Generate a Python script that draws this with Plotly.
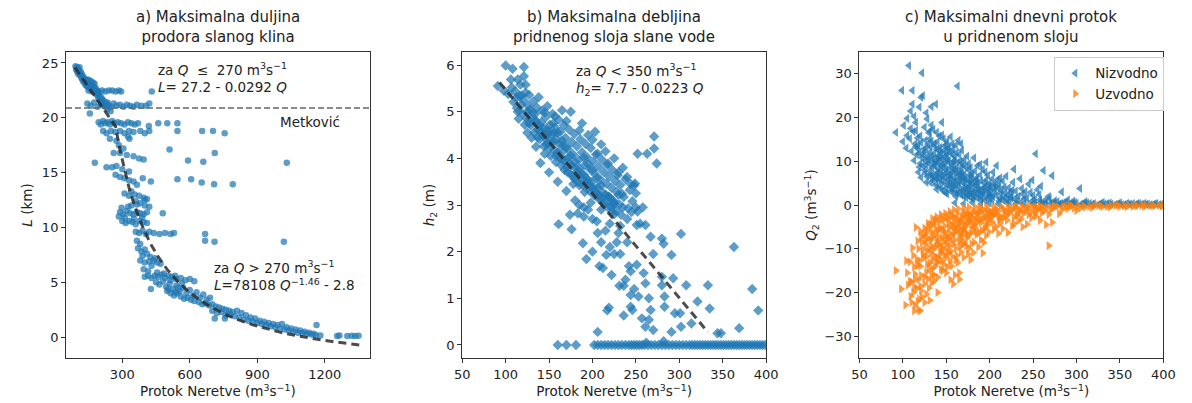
import plotly.graph_objects as go

# ---------------- data ----------------
# panel a: (Q [m3/s], L [km])
a_points = [
    (92,24.7),(95,24.4),(98,24.6),(100,24.2),(103,24.5),(105,24.0),(108,24.3),(110,24.6),(112,23.9),(115,24.2),
    (117,23.7),(120,24.0),(122,23.5),(125,23.8),(127,23.3),(130,23.6),(132,23.2),(135,23.5),(137,23.0),(140,23.4),
    (142,22.9),(145,23.2),(147,23.5),(150,22.8),(152,23.1),(155,23.4),(157,22.7),(160,23.0),(162,23.3),(165,22.6),
    (167,22.9),(170,23.2),(172,22.5),(175,22.8),(177,23.1),(180,22.4),(182,22.7),(185,22.2),(188,22.5),(190,22.0),
    (193,22.3),(195,21.8),(198,22.1),(200,21.6),(205,21.9),(208,21.4),(212,21.7),(215,21.2),(220,21.5),(225,21.0),
    (230,21.3),(235,20.8),(240,21.1),(248,20.6),
    (150,22.5),(165,22.4),(180,22.5),(195,22.4),(210,22.5),(225,22.4),(240,22.5),(255,22.5),(270,22.4),(285,22.5),
    (295,22.4),(431,22.4),
    (145,21.3),(160,21.1),(175,21.4),(190,21.0),(205,21.2),(220,21.1),(235,21.4),(250,21.0),(262,21.3),(275,21.1),
    (290,21.2),(305,21.0),(320,21.2),(335,21.1),(350,21.0),(365,21.2),(385,21.1),(405,21.1),(420,21.3),(156,20.4),
    (195,19.6),(205,19.4),(215,19.7),(225,19.5),(235,19.6),(245,19.4),(255,19.7),(265,19.5),(280,19.6),(295,19.5),
    (310,19.4),(325,19.6),(340,19.5),(355,19.4),(370,19.5),(418,19.25),(460,19.5),(500,19.5),(545,19.5),
    (215,18.8),(230,18.6),(250,18.8),(270,18.7),(290,18.8),(310,18.6),(330,18.8),(350,18.7),(380,18.8),(400,18.6),
    (420,18.8),(545,18.8),(655,18.8),(703,18.8),(755,18.6),
    (245,18.1),(274,17.9),(332,18.1),(326,18.3),(285,17.5),(305,17.2),(262,16.8),(290,16.8),(320,16.6),(350,16.5),
    (375,16.3),(395,16.2),(510,17.1),(711,16.8),(592,16.1),(660,16.0),(1031,15.9),(178,15.9),
    (230,15.5),(255,15.5),(274,15.6),(300,15.3),(330,15.1),(270,14.8),(290,14.6),(310,14.5),(330,14.3),(350,14.2),
    (391,14.5),(427,14.2),(365,13.9),(545,14.4),(606,14.4),(653,14.1),(708,13.95),(791,13.95),
    (340,13.3),(310,13.1),(330,12.9),(355,13.0),(375,12.9),(395,12.7),(410,12.6),(360,12.4),(380,12.2),(400,12.5),
    (290,11.4),(305,11.2),(320,11.5),(335,11.3),(350,11.2),(365,11.4),(380,11.3),(395,11.2),(410,11.4),(480,11.3),
    (300,10.6),(315,10.4),(330,10.6),(345,10.5),(360,10.3),(378,10.6),(395,10.5),(410,10.4),(340,12.0),(365,12.1),
    (400,12.0),(420,11.9),(285,11.0),(297,11.8),(312,10.9),(326,11.9),(352,10.8),(388,10.9),
    (360,9.6),(375,9.5),(390,9.7),(405,9.4),(420,9.6),(440,9.5),(465,9.4),(490,9.5),(515,9.4),(530,9.5),
    (668,9.4),(668,8.8),(710,8.7),(1018,8.7),(365,8.8),(380,8.5),
    (370,8.1),(385,7.8),(400,8.0),(390,7.4),(410,7.6),(425,7.3),(380,7.0),(400,6.8),(420,6.9),(440,7.0),
    (455,6.8),(470,6.7),(445,7.2),(430,6.5),(395,6.2),(415,6.0),
    (400,5.5),(415,5.6),(430,5.4),(445,5.6),(460,5.5),(475,5.7),(490,5.4),(505,5.6),(520,5.5),(540,5.3),
    (560,5.4),(580,5.2),(600,5.3),(620,5.1),(427,4.4),(455,5.9),(485,5.8),(515,5.2),(535,5.6),(565,4.9),
    (450,5.0),(465,4.8),(480,5.1),(495,4.6),(510,4.9),(525,4.4),(540,4.7),(555,4.2),(570,4.5),(585,4.0),
    (600,4.3),(615,3.8),(630,4.1),(645,3.6),(660,3.9),(675,3.4),(690,3.6),(505,4.4),(535,4.1),(548,4.5),
    (500,4.2),(515,4.0),(530,3.8),(545,4.0),(560,3.7),(575,3.5),(590,3.6),(605,3.4),(620,3.3),(640,3.2),
    (655,3.0),(670,3.1),(685,2.9),(700,3.0),(715,2.8),(730,2.7),(745,2.6),(760,2.5),(775,2.4),(790,2.3),
    (711,1.7),(756,1.7),(700,2.4),(720,2.2),(740,2.3),(760,2.0),(780,2.1),(800,1.9),(820,1.8),(840,1.6),
    (860,1.5),(880,1.4),(900,1.3),(920,1.2),(940,1.1),(960,1.0),(980,0.9),(1000,0.8),(1020,0.7),(1040,0.6),
    (1060,0.5),(1080,0.4),(1100,0.35),(1120,0.3),(1140,0.25),(1163,1.1),(1160,0.2),(1180,0.15),
    (810,2.4),(830,2.2),(850,2.0),(870,1.8),(890,1.7),(910,1.5),(930,1.4),(950,1.3),(970,1.2),(990,1.1),
    (1010,1.2),(1030,0.9),(1050,0.8),(1070,0.7),(1090,0.6),(1110,0.5),(1130,0.4),(1150,0.3),
    (1255,0.1),(1265,0.15),(1300,0.1),(1320,0.12),(1335,0.1),(1350,0.12),
]

# panel b: (Q, h2 [m])
b_points = [
    (100,5.99),(108,5.92),(121,5.96),(121,5.76),(91,5.55),(106,5.69),(114,5.69),(123,5.58),(98,5.45),
    (103,5.38),(107,5.52),(109,5.21),(111,5.44),(113,5.08),(116,5.33),(117,5.58),(119,4.97),(121,5.24),(123,5.41),
    (124,4.86),(126,5.12),(127,5.36),(129,4.71),(131,4.98),(132,5.22),(133,4.55),(134,4.83),(136,5.09),(137,4.62),
    (138,5.31),(139,4.41),(141,4.77),(142,5.02),(143,4.49),(144,4.26),(146,4.88),(147,4.61),(148,5.12),(149,4.33),
    (151,4.72),(152,4.05),(153,4.51),(154,4.95),(156,4.18),(157,4.66),(158,3.92),(159,4.41),(161,4.83),(162,4.02),
    (163,4.57),(164,3.85),(166,4.28),(167,4.71),(168,3.96),(169,4.44),(171,3.71),(172,4.19),(173,4.62),(174,3.88),
    (176,4.35),(177,3.62),(178,4.08),(179,4.52),(181,3.79),(182,4.26),(183,3.51),(184,3.97),(186,4.41),(187,3.68),
    (188,4.13),(189,3.42),(191,3.86),(192,4.31),(193,3.58),(194,4.02),(196,3.31),(197,3.77),(198,4.22),(199,3.49),
    (201,3.93),(202,3.21),(203,3.66),(204,4.08),(206,3.38),(207,3.82),(208,3.12),(209,3.55),(211,3.97),(212,3.27),
    (213,3.71),(214,3.03),(216,3.46),(217,3.86),(218,3.18),(219,3.61),(221,2.96),(222,3.37),(223,3.75),(224,3.09),
    (226,3.52),(227,2.88),(228,3.28),(229,3.64),(231,3.01),(232,3.43),(233,2.79),(236,3.17),(238,3.55),(241,2.93),
    (243,3.32),(246,3.08),(249,3.46),(252,2.86),
    (118,5.15),(122,4.72),(128,5.05),(130,4.44),(135,4.78),(140,4.58),(145,4.45),(145,4.99),(150,4.21),(150,4.58),
    (155,4.36),(155,4.75),(160,4.12),(160,4.55),(165,3.98),(165,4.38),(170,3.82),(170,4.25),(175,4.05),(175,3.66),
    (180,3.92),(180,3.55),(185,3.78),(185,3.42),(190,3.65),(190,4.02),(195,3.52),(195,3.88),(200,3.38),(200,3.75),
    (205,3.25),(205,3.58),(210,3.12),(210,3.42),(215,3.22),(220,3.15),(225,3.02),(230,3.22),
    (112,5.3),(118,5.35),(125,5.0),(128,4.85),(134,4.95),(139,4.7),(143,4.65),(148,4.5),(152,4.35),(156,4.55),
    (162,4.3),(166,4.15),(171,4.0),(176,3.85),(182,3.7),(186,3.6),(192,3.5),(197,3.4),(203,3.3),(208,3.2),
    (213,3.05),(218,2.95),(223,2.85),(114,5.0),(127,4.75),(137,4.45),(147,4.3),(158,4.05),(168,3.75),(178,3.45),
    (165,5.03),(175,5.0),(203,4.57),(206,4.1),(218,3.89),(185,4.6),(195,4.5),(210,4.3),(225,4.0),(235,3.8),
    (240,3.6),(230,3.7),(157,4.9),(170,4.8),(188,4.75),(200,4.4),(215,4.15),(244,3.45),(250,3.25),
    (140,3.9),(150,3.7),(160,3.5),(170,3.3),(180,3.1),(190,2.95),(145,4.1),(135,4.25),(125,4.55),(115,4.85),
    (252,4.1),(263,4.1),(271,4.21),(274,3.89),(271,4.47),(191,3.28),(219,3.18),(234,3.24),(248,3.42),
    (161,2.59),(176,2.48),(174,2.79),(183,2.82),(189,2.18),(193,1.84),(200,2.0),(206,2.4),(208,1.69),(212,1.65),
    (216,1.93),(219,0.8),(217,0.74),(206,0.28),(225,1.95),(232,1.95),(231,1.27),(236,1.27),(236,0.63),(242,1.69),
    (244,1.58),(244,1.07),(244,0.82),(246,0.75),(251,1.72),(251,2.57),(253,1.04),(257,0.57),(259,1.54),(261,1.32),
    (261,0.39),(265,0.54),(265,1.0),(267,0.75),(270,0.32),(270,1.95),(261,2.57),(267,2.32),(280,1.46),(280,1.28),
    (283,1.04),(283,0.82),(291,1.93),(291,0.28),(293,1.43),(295,0.68),(301,0.68),(302,2.38),(302,0.39),(308,1.28),
    (314,0.46),(321,0.93),(333,1.28),(335,0.78),(344,0.25),(348,0.25),(363,2.1),(369,0.36),(384,1.2),(391,0.74),
    (280,2.28),(282,2.17),
    (190,2.75),(195,2.9),(200,2.7),(205,2.65),(210,2.9),(215,2.45),(220,2.6),(225,2.8),(230,2.4),(235,2.95),
    (240,2.7),(245,2.85),(250,2.95),(255,2.6),(258,2.95),(185,3.0),(198,3.05),(225,3.05),(232,2.55),(240,2.2),
    (238,1.4),(248,1.2),(228,2.2),(222,1.5),(220,2.1),(210,2.2),
    (160,0),(170,0),(181,0),(202,0),(206,0),(210,0),(214,0),(218,0),(222,0),(226,0),(230,0),(234,0),(238,0),
    (242,0),(245,0),(248,0),(251,0),(254,0),(257,0),(260,0),(264,0),(268,0),(272,0),(276,0),(280,0),(284,0),
    (288,0),(292,0),(296,0),(300,0),(304,0),(308,0),(312,0),(315,0),(318,0),(321,0),(324,0),(327,0),(330,0),
    (333,0),(336,0),(339,0),(342,0),(345,0),(348,0),(351,0),(354,0),(357,0),(360,0),(363,0),(366,0),(369,0),
    (372,0),(375,0),(378,0),(381,0),(384,0),(387,0),(390,0),(393,0),(396,0),(399,0),(282,0.08),(262,0.05),
]

# panel c: (Q, Q2) downstream (Nizvodno) and upstream (Uzvodno)
c_down = [
    (107,31.9),(122,30.2),(99,26.2),(111,26.2),(163,27.2),(123,25.0),(121,24.6),(111,23.1),(119,22.4),(138,23.1),
    (105,19.8),(115,18.9),(128,19.7),(92,16.6),(105,15.9),
    (100,14.5),(104,13.0),(108,15.2),(110,12.3),(112,16.8),(114,14.0),(116,11.5),(118,13.5),(120,15.8),(122,10.8),
    (124,12.8),(126,14.8),(128,11.0),(130,16.5),(130,9.5),(132,13.2),(134,8.5),(135,17.3),(136,11.8),(138,10.0),
    (140,14.5),(140,7.5),(142,12.5),(144,9.0),(145,16.0),(146,6.8),(148,11.0),(150,13.8),(150,8.0),(152,5.8),
    (153,10.2),(155,12.0),(155,7.0),(157,9.2),(158,4.8),(160,11.0),(160,6.2),(162,8.5),(164,14.8),(165,5.0),
    (166,10.0),(168,7.3),(170,4.0),(170,9.0),(172,6.0),(174,11.2),(175,3.5),(176,8.0),(178,5.2),(180,7.0),
    (180,2.8),(182,10.8),(184,4.5),(185,6.2),(188,3.2),(190,5.5),(192,8.2),(193,2.5),(195,4.2),(198,6.8),
    (200,3.0),(200,1.8),(204,7.5),(205,4.8),(208,2.2),(210,3.8),(212,1.5),(215,5.5),(218,2.8),(220,1.2),
    (222,4.0),(225,2.0),(228,8.2),(230,3.2),(232,1.0),(235,6.0),(238,2.5),(240,1.5),(245,4.8),(248,0.8),
    (250,2.2),(253,11.7),(255,3.5),(258,1.2),(262,7.9),(265,0.6),(268,2.0),(272,6.7),(275,1.0),(283,3.0),
    (285,0.5),(290,1.2),(304,3.8),(300,0.4),(310,0.8),(320,0.3),(330,0.6),(340,0.2),(350,0.5),(360,0.2),
    (370,0.4),(380,0.15),(390,0.3),(400,0.2),
    (125,8.0),(128,6.5),(132,7.0),(135,5.5),(138,6.0),(142,4.5),(145,10.5),(148,5.0),(150,3.8),(154,4.2),
    (156,3.0),(160,3.5),(162,2.5),(166,3.0),(170,2.0),(174,2.4),(178,1.8),(182,2.0),(186,1.5),(190,1.2),
    (195,1.0),(140,9.8),(134,10.5),(144,7.8),(156,6.5),(162,12.0),(168,12.5),(176,9.5),(186,9.0),(196,9.8),
    (208,9.0),(150,12.2),(120,9.5),(118,7.5),(126,10.2),(136,14.0),(142,15.8),(148,13.5),(158,12.8),(166,6.8),
    (172,4.8),(185,5.8),(200,5.0),(212,6.2),
    (113,10.2),(117,12.9),(119,8.7),(121,14.3),(123,11.6),(127,9.1),(129,13.9),(131,7.8),(133,11.1),(135,9.7),
    (137,6.4),(139,12.7),(141,8.3),(143,10.9),(145,5.6),(147,9.5),(149,7.2),(151,11.4),(152,9.9),(154,6.1),
    (156,8.7),(157,11.6),(159,5.4),(161,7.7),(163,9.8),(164,4.3),(166,6.0),(167,8.4),(169,5.2),(171,7.1),
    (173,3.6),(175,5.9),(177,4.6),(179,6.6),(181,3.9),(183,5.4),(187,4.2),(189,6.9),(191,3.4),(194,5.1),
    (197,2.9),(199,4.4),(202,2.4),(206,3.3),(209,5.8),(213,2.6),(217,4.1),(221,2.2),(226,3.4),(233,2.0),
    (237,3.8),(243,1.6),(247,2.9),(252,1.3),(257,2.4),(263,1.0),(269,1.5),(278,0.8),(288,0.6),(296,0.9),
    (125,12.1),(131,15.1),(137,13.5),(141,11.2),(147,12.3),(153,13.1),(159,10.1),(165,11.5),(171,10.4),(177,6.9),
    (183,7.8),(189,9.3),(195,7.6),(203,6.0),(211,4.6),(219,6.6),(227,5.2),(241,3.1),(249,5.7),(259,4.3),
    (139,3.6),(143,5.9),(149,2.8),(153,6.9),(157,4.0),(161,2.0),(163,5.7),(169,3.3),(173,1.7),(177,3.0),
    (181,1.3),(185,2.6),(191,1.9),(197,1.5),(203,1.1),(211,0.9),(217,1.7),(223,0.7),(229,1.4),(236,0.6),
    (115,17.0),(117,15.3),(125,17.8),(133,18.3),(139,16.6),(147,15.1),(151,14.6),(157,14.0),(127,21.1),(133,22.5),
    (101,18.2),(109,21.5),(113,20.3),(145,18.9),(131,16.9),(143,13.2),(161,13.7),(155,15.6),(167,14.0),(109,17.5),
    (127,5.2),(133,6.3),(139,7.1),(146,3.3),(152,4.9),(158,7.6),(164,6.9),(170,5.9),(176,4.1),(180,5.1),
    (187,3.3),(193,4.0),(199,2.2),(205,3.9),(215,1.1),(225,1.6),(131,12.0),(137,9.0),(143,6.9),(149,9.0),
    (121,6.3),(123,9.0),(126,7.3),(129,10.4),(132,5.1),(134,6.8),(136,9.1),(138,4.6),(140,6.0),(142,10.0),
    (144,3.9),(146,8.6),(148,6.3),(150,10.6),(151,2.6),(153,8.0),(155,5.0),(157,3.4),(159,8.2),(161,4.6),
    (163,3.0),(165,7.6),(167,2.3),(169,6.6),(171,3.1),(173,8.7),(175,2.2),(177,5.5),(179,2.6),(183,3.2),
    (186,4.9),(188,2.1),(192,3.0),(196,5.7),(198,3.6),(201,4.1),(204,2.0),(207,4.6),(214,3.3),(224,2.9),
    (127,13.0),(133,14.6),(139,10.9),(144,11.9),(152,12.9),(158,9.9),(168,9.6),(178,8.6),(119,11.8),(115,13.4),
    (160,0.5),(170,0.3),(180,0.6),(190,0.2),(200,0.4),(210,0.3),(220,0.5),(230,0.2),(240,0.4),(250,0.3),
    (260,0.2),(270,0.4),(280,0.2),(295,0.3),(305,0.2),(315,0.4),(325,0.1),(335,0.3),(345,0.2),(355,0.1),
    (365,0.3),(375,0.2),(385,0.1),(395,0.1),
    (252,0.4),(258,0.6),(264,0.3),(274,0.5),(282,0.4),(292,0.2),(298,0.6),(308,0.3),(312,0.5),(318,0.2),
    (328,0.4),(332,0.2),(338,0.5),(348,0.3),(352,0.1),(358,0.4),(362,0.2),(368,0.1),(372,0.3),(378,0.4),
    (382,0.2),(388,0.1),(392,0.3),(398,0.2),
]
c_up = [
    (92,-15.0),(98,-19.2),(103,-22.9),(113,-24.2),(120,-24.2),(109,-20.9),(119,-21.5),(127,-20.4),(136,-17.3),
    (160,-16.0),(158,-18.1),(115,-5.1),(268,-9.3),(221,-6.3),(243,-4.4),(272,-4.0),
    (105,-15.5),(108,-13.0),(110,-17.5),(112,-11.5),(114,-15.8),(116,-12.5),(118,-10.0),(120,-14.0),(120,-18.5),
    (122,-8.5),(124,-12.0),(125,-16.5),(126,-6.5),(128,-10.5),(130,-14.5),(130,-5.0),(132,-8.0),(134,-12.5),
    (135,-4.5),(136,-16.0),(138,-9.5),(140,-6.0),(140,-13.0),(142,-3.8),(144,-11.0),(145,-7.5),(146,-15.0),
    (148,-4.8),(150,-9.0),(150,-12.0),(152,-3.2),(154,-6.5),(155,-10.5),(156,-14.0),(158,-5.0),(160,-8.0),
    (160,-2.8),(162,-11.5),(164,-4.2),(165,-6.8),(166,-9.5),(168,-3.0),(170,-5.5),(170,-12.0),(172,-2.2),
    (174,-7.5),(175,-4.0),(176,-10.0),(178,-2.8),(180,-5.8),(180,-1.8),(182,-8.5),(184,-3.5),(185,-2.0),
    (188,-6.2),(190,-1.5),(190,-4.0),(192,-11.0),(194,-2.5),(196,-7.0),(198,-1.2),(200,-3.2),(202,-1.8),
    (205,-5.5),(208,-1.0),(210,-2.5),(212,-4.2),(215,-0.8),(218,-1.8),(220,-3.5),(224,-1.0),(228,-2.8),
    (230,-0.6),(235,-1.5),(238,-5.0),(240,-0.8),(245,-2.2),(250,-0.5),(255,-1.2),(258,-3.5),(262,-0.6),
    (265,-4.5),(270,-1.0),(275,-0.4),(280,-2.0),(285,-0.3),(290,-0.8),(300,-1.3),(302,-0.3),(310,-0.5),
    (320,-0.2),(330,-0.4),(340,-0.2),(350,-0.3),(360,-0.1),(370,-0.2),(380,-0.1),(390,-0.2),(400,-0.1),
    (126,-9.0),(128,-13.5),(132,-11.0),(136,-7.0),(138,-5.5),(142,-9.0),(146,-5.8),(148,-11.5),(152,-7.5),
    (156,-4.5),(158,-9.0),(162,-6.0),(166,-3.5),(168,-7.0),(172,-5.0),(176,-3.0),(178,-6.5),(182,-4.5),
    (186,-2.8),(190,-8.0),(194,-5.5),(198,-3.8),(204,-2.5),(210,-6.5),(216,-3.0),(222,-2.0),(226,-4.8),
    (232,-1.8),(236,-3.2),(242,-1.2),(248,-3.0),(252,-2.0),(256,-0.8),(260,-1.8),(266,-0.5),(272,-0.9),
    (278,-0.3),(288,-0.4),(295,-0.2),(305,-0.6),(315,-0.3),(325,-0.1),(335,-0.3),(345,-0.1),(355,-0.2),
    (365,-0.3),(375,-0.1),(385,-0.2),(395,-0.1),(134,-14.5),(140,-16.5),(144,-14.8),(150,-15.5),(154,-13.0),
    (130,-19.0),(118,-17.0),(112,-20.0),(122,-21.0),(116,-19.0),(108,-17.5),(124,-7.0),(120,-6.0),
    (111,-9.8),(113,-14.1),(117,-8.2),(119,-12.7),(121,-16.1),(123,-10.2),(125,-5.3),(127,-11.8),(129,-7.6),(131,-13.2),
    (133,-6.1),(135,-10.1),(137,-3.8),(139,-11.9),(141,-7.3),(143,-5.1),(145,-9.7),(147,-3.3),(149,-6.9),(151,-10.6),
    (153,-4.1),(155,-8.1),(157,-2.6),(159,-6.2),(161,-9.9),(163,-3.4),(165,-5.2),(167,-7.7),(169,-2.4),(171,-4.4),
    (173,-6.4),(175,-1.9),(177,-3.7),(179,-8.9),(181,-2.9),(183,-5.1),(187,-1.7),(189,-3.3),(191,-5.8),(193,-1.2),
    (195,-2.9),(197,-4.5),(199,-2.1),(201,-1.4),(203,-3.9),(207,-2.0),(209,-1.5),(213,-2.8),(217,-1.3),(219,-2.4),
    (223,-1.5),(227,-0.9),(231,-2.4),(234,-1.1),(239,-2.0),(244,-0.7),(247,-1.6),(253,-1.0),(259,-0.5),(263,-1.4),
    (113,-18.8),(117,-22.0),(121,-19.6),(125,-18.0),(129,-16.9),(133,-17.8),(137,-14.0),(141,-12.1),(145,-12.8),(151,-14.2),
    (157,-11.8),(163,-13.2),(167,-10.8),(173,-9.4),(181,-10.9),(187,-9.6),(193,-8.6),(199,-6.1),(207,-4.9),(215,-5.4),
    (228,-4.2),(233,-3.6),(253,-2.6),(268,-2.2),(283,-1.1),(297,-0.7),(308,-0.2),(318,-0.6),(328,-0.2),(338,-0.5),
    (348,-0.1),(358,-0.4),(368,-0.1),(378,-0.3),(388,-0.1),(398,-0.3),(252,-0.3),(258,-0.2),(274,-0.2),(292,-0.1),
    (104,-12.8),(106,-18.3),(110,-22.3),(114,-23.0),(118,-24.0),(125,-22.3),(131,-21.8),(140,-20.0),(155,-17.1),(165,-15.5),
    (178,-12.5),(165,-17.0),(129,-4.2),(134,-3.1),(139,-2.7),(144,-2.2),(149,-1.9),(154,-1.5),(159,-1.1),(164,-0.9),
    (170,-0.7),(176,-0.5),(183,-0.4),(189,-0.6),(196,-0.3),(205,-0.5),(213,-0.3),(221,-0.4),(229,-0.2),(237,-0.3),
    (245,-0.2),(133,-9.3),(139,-8.1),(147,-8.4),(153,-9.4),(161,-4.8),(167,-5.9),(171,-8.6),(185,-6.8),(143,-10.6),
    (121,-7.1),(123,-11.4),(126,-8.0),(128,-5.9),(130,-10.0),(132,-4.4),(134,-7.3),(136,-11.6),(138,-3.3),(140,-8.8),
    (142,-5.6),(144,-3.0),(146,-10.2),(148,-6.2),(150,-2.8),(151,-7.9),(153,-5.3),(155,-2.3),(157,-7.0),(159,-3.6),
    (161,-5.8),(163,-2.0),(165,-8.4),(167,-4.1),(169,-6.1),(171,-1.8),(173,-3.6),(175,-6.9),(177,-2.1),(179,-4.6),
    (182,-1.5),(184,-6.0),(186,-3.9),(188,-1.3),(192,-3.1),(195,-4.9),(197,-1.9),(200,-2.6),(205,-1.6),(211,-3.4),
    (127,-15.3),(133,-15.9),(139,-13.2),(147,-13.6),(153,-11.0),(161,-12.5),(169,-9.0),(175,-11.2),(117,-13.8),(114,-17.0),
]

# fitted relations (coefficients as printed on the chart)
FIT_A_LIN = (27.2, 0.0292)          # L = 27.2 - 0.0292 Q, Q <= 270
FIT_A_POW = (78108.0, -1.46, 2.8)   # L = 78108 Q^-1.46 - 2.8, Q > 270
FIT_B_LIN = (7.7, 0.0223)           # h2 = 7.7 - 0.0223 Q, Q < 350
fit_a_q_lin = [90, 130, 170, 210, 250, 270]
fit_a_q_pow = [270, 290, 310, 330, 350, 375, 400, 430, 460, 500, 550, 600, 650, 700, 760, 820,
               880, 940, 1000, 1060, 1120, 1180, 1240, 1300, 1360]
fit_b_q = [93, 333]
METKOVIC_L = 20.9

BLUE = "rgba(31,119,180,0.72)"
ORANGE = "rgba(255,127,14,0.78)"
DASH = "rgba(45,45,45,0.85)"
FONT = "DejaVu Sans"
TXT = "#222222"

# ---------------- figure ----------------
fig = go.Figure()

fig.add_trace(go.Scatter(x=[p[0] for p in a_points], y=[p[1] for p in a_points], mode="markers",
                         xaxis="x", yaxis="y", showlegend=False,
                         marker=dict(symbol="circle", size=6.5, color=BLUE, line=dict(width=0))))
fa_y_lin = [FIT_A_LIN[0] - FIT_A_LIN[1] * q for q in fit_a_q_lin]
fa_y_pow = [FIT_A_POW[0] * q ** FIT_A_POW[1] - FIT_A_POW[2] for q in fit_a_q_pow]
fig.add_trace(go.Scatter(x=fit_a_q_lin + fit_a_q_pow, y=fa_y_lin + fa_y_pow, mode="lines",
                         xaxis="x", yaxis="y", showlegend=False,
                         line=dict(color=DASH, width=3, dash="8px,5px")))

fig.add_trace(go.Scatter(x=[p[0] for p in b_points], y=[p[1] for p in b_points], mode="markers",
                         xaxis="x2", yaxis="y2", showlegend=False,
                         marker=dict(symbol="diamond", size=8, color=BLUE, line=dict(width=0))))
fig.add_trace(go.Scatter(x=fit_b_q, y=[FIT_B_LIN[0] - FIT_B_LIN[1] * q for q in fit_b_q], mode="lines",
                         xaxis="x2", yaxis="y2", showlegend=False,
                         line=dict(color=DASH, width=3, dash="8px,5px")))

fig.add_trace(go.Scatter(x=[p[0] for p in c_down], y=[p[1] for p in c_down], mode="markers",
                         xaxis="x3", yaxis="y3", name="Nizvodno",
                         marker=dict(symbol="triangle-left", size=8, color=BLUE, line=dict(width=0))))
fig.add_trace(go.Scatter(x=[p[0] for p in c_up], y=[p[1] for p in c_up], mode="markers",
                         xaxis="x3", yaxis="y3", name="Uzvodno",
                         marker=dict(symbol="triangle-right", size=8, color=ORANGE, line=dict(width=0))))

W, H = 1192, 403
doms = [(59 / W, 368 / W), (462 / W, 771 / W), (866 / W, 1175 / W)]
xtitle = "Protok Neretve (m<sup>3</sup>s<sup>−1</sup>)"

ax_common = dict(showline=True, mirror=True, linecolor="#333333", linewidth=1, ticks="outside",
                 ticklen=4, tickcolor="#333333", showgrid=False, zeroline=False,
                 tickfont=dict(family=FONT, size=13, color=TXT),
                 title_font=dict(family=FONT, size=13.5, color=TXT))

fig.update_layout(
    width=W, height=H, margin=dict(l=0, r=0, t=52, b=45),
    paper_bgcolor="white", plot_bgcolor="white",
    font=dict(family=FONT, size=13, color=TXT),
    xaxis=dict(domain=doms[0], range=[50, 1400], tickvals=[300, 600, 900, 1200],
               title=dict(text=xtitle, standoff=4), anchor="y", **ax_common),
    yaxis=dict(domain=[0, 1], range=[-1.9, 26.0], tickvals=[0, 5, 10, 15, 20, 25],
               title=dict(text="<i>L</i> (km)", standoff=6), anchor="x", **ax_common),
    xaxis2=dict(domain=doms[1], range=[50, 400], tickvals=list(range(50, 401, 50)),
                title=dict(text=xtitle, standoff=4), anchor="y2", **ax_common),
    yaxis2=dict(domain=[0, 1], range=[-0.28, 6.28], tickvals=[0, 1, 2, 3, 4, 5, 6],
                title=dict(text="<i>h</i><sub>2</sub> (m)", standoff=8), anchor="x2", **ax_common),
    xaxis3=dict(domain=doms[2], range=[50, 400], tickvals=list(range(50, 401, 50)),
                title=dict(text=xtitle, standoff=4), anchor="y3", **ax_common),
    yaxis3=dict(domain=[0, 1], range=[-35, 35], tickvals=[-30, -20, -10, 0, 10, 20, 30],
                title=dict(text="<i>Q</i><sub>2</sub> (m<sup>3</sup>s<sup>−1</sup>)", standoff=4),
                anchor="x3", **ax_common),
    legend=dict(x=1176 / W, xanchor="right", y=0.984, yanchor="top",
                bgcolor="rgba(255,255,255,0.85)", bordercolor="#cccccc", borderwidth=1,
                font=dict(family=FONT, size=13.5, color=TXT), itemsizing="trace",
                tracegroupgap=2),
    showlegend=True,
)

# Metković reference line
fig.add_shape(type="line", xref="x domain", yref="y", x0=0, x1=1, y0=METKOVIC_L, y1=METKOVIC_L,
              line=dict(color="#666666", width=1.5, dash="6px,3px"))

titles = ["a) Maksimalna duljina<br>prodora slanog klina",
          "b) Maksimalna debljina<br>pridnenog sloja slane vode",
          "c) Maksimalni dnevni protok<br>u pridnenom sloju"]
for (d0, d1), t in zip(doms, titles):
    fig.add_annotation(text=t, xref="paper", yref="paper", x=(d0 + d1) / 2, y=1, yanchor="bottom",
                       xanchor="center", yshift=4, showarrow=False,
                       font=dict(family=FONT, size=15, color=TXT))

ann_font = dict(family=FONT, size=13.5, color=TXT)
notes = [
    ("x", "y", 449, 23.72,
     "za <i>Q</i>  ≤  270 m<sup>3</sup>s<sup>−1</sup><br><i>L</i>= 27.2 - 0.0292 <i>Q</i>", "left"),
    ("x", "y", 698, 5.66,
     "za <i>Q</i> > 270 m<sup>3</sup>s<sup>−1</sup><br><i>L</i>=78108 <i>Q</i><sup>−1.46</sup> - 2.8", "left"),
    ("x", "y", 1135, 19.6, "Metković", "center"),
    ("x2", "y2", 179, 5.69,
     "za <i>Q</i> < 350 m<sup>3</sup>s<sup>−1</sup><br><i>h</i><sub>2</sub>= 7.7 - 0.0223 <i>Q</i>", "left"),
]
for xr, yr, x, y, t, anc in notes:
    fig.add_annotation(text=t, xref=xr, yref=yr, x=x, y=y, xanchor=anc, yanchor="middle", align="left",
                       showarrow=False, font=ann_font)

fig.write_html("out.html")
